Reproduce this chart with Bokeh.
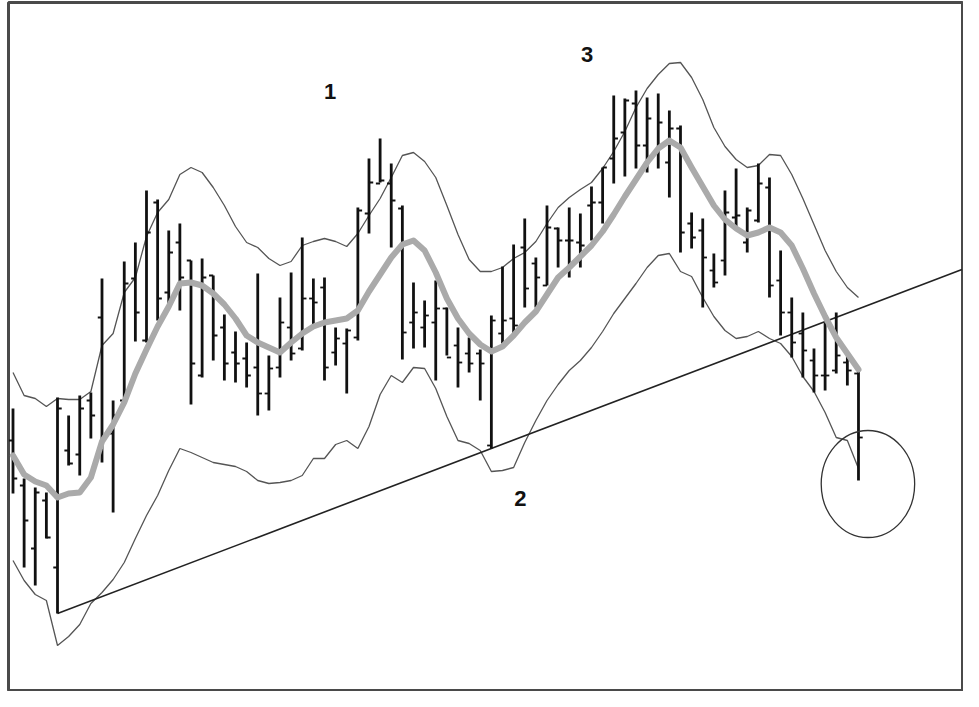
import numpy as np
from bokeh.plotting import figure
from bokeh.models import Range1d
from bokeh.core.properties import value
from bokeh.embed import file_html
from bokeh.resources import INLINE

# ---- daily bars (price units) ----
opens = [260, 215, 152, 200, 133, 250, 246, 300, 383, 267, 300, 422, 360, 498, 408, 458, 440, 325, 425, 373,
         348, 342, 333, 307, 333, 373, 352, 402, 413, 348, 357, 363, 487, 517, 517, 492, 378, 373, 378, 392,
         355, 347, 347, 255, 367, 382, 453, 437, 415, 472, 460, 458, 495, 498, 542, 568, 597, 555, 548, 538,
         572, 477, 470, 430, 440, 483, 458, 480, 513, 420, 388, 367, 340, 325, 330, 338, 327]
highs = [292, 222, 213, 208, 303, 285, 305, 308, 422, 300, 439, 458, 510, 501, 470, 477, 440, 442, 425, 386,
         369, 358, 427, 345, 403, 428, 463, 422, 423, 373, 372, 493, 542, 562, 537, 495, 418, 400, 420, 393,
         373, 363, 351, 385, 434, 456, 482, 443, 495, 473, 493, 487, 514, 533, 605, 602, 610, 603, 607, 590,
         575, 488, 482, 447, 510, 532, 493, 537, 523, 450, 403, 388, 352, 378, 388, 347, 332]
lows = [207, 133, 115, 162, 87, 235, 225, 262, 238, 188, 297, 359, 358, 380, 392, 390, 296, 323, 340, 320,
        318, 313, 285, 290, 323, 340, 350, 373, 320, 335, 307, 360, 467, 518, 453, 341, 352, 353, 320, 345,
        313, 328, 300, 252, 357, 364, 393, 393, 415, 433, 423, 433, 460, 477, 517, 524, 532, 528, 532, 503,
        448, 452, 393, 413, 425, 473, 448, 478, 403, 365, 343, 323, 308, 310, 327, 315, 220]
closes = [222, 180, 208, 163, 292, 237, 292, 285, 263, 285, 417, 388, 468, 402, 448, 423, 337, 423, 365, 337,
          337, 325, 307, 332, 378, 347, 402, 398, 333, 362, 370, 490, 518, 520, 500, 368, 388, 385, 392, 343,
          338, 337, 337, 380, 380, 375, 412, 423, 473, 460, 460, 455, 498, 533, 562, 600, 555, 582, 578, 572,
          468, 463, 443, 418, 488, 485, 490, 517, 415, 388, 358, 350, 325, 325, 345, 330, 263]

# ---- indicators ----
upper_band = [328, 305, 302, 294, 302, 301, 301, 309, 355, 367, 408, 423, 464, 488, 501, 526, 533, 528, 513, 495,
              474, 458, 453, 442, 435, 439, 455, 459, 462, 459, 454, 467, 485, 502, 523, 545, 548, 539, 523, 495,
              466, 441, 429, 429, 433, 442, 448, 459, 477, 493, 503, 511, 518, 532, 549, 569, 593, 612, 626, 637,
              638, 623, 601, 573, 554, 541, 533, 535, 546, 545, 526, 502, 476, 450, 429, 413, 403]
lower_band = [140, 120, 106, 100, 55, 64, 76, 97, 108, 121, 138, 162, 185, 205, 230, 252, 248, 243, 238, 236,
              234, 229, 220, 217, 218, 220, 225, 242, 242, 256, 260, 252, 274, 306, 325, 318, 333, 332, 312, 284,
              260, 257, 250, 229, 230, 233, 258, 280, 300, 316, 330, 340, 353, 369, 387, 402, 417, 433, 445, 447,
              429, 424, 403, 384, 370, 362, 364, 369, 362, 357, 344, 324, 309, 288, 263, 260, 232]
moving_avg = [245, 226, 219, 215, 203, 207, 208, 223, 259, 276, 298, 327, 351, 374, 394, 417, 418, 415, 407, 396,
              382, 365, 358, 353, 348, 358, 367, 374, 378, 380, 382, 390, 409, 426, 443, 456, 460, 450, 428, 402,
              382, 367, 356, 349, 354, 365, 378, 389, 406, 423, 433, 444, 455, 469, 486, 504, 521, 538, 552, 560,
              553, 533, 514, 495, 481, 472, 465, 468, 473, 468, 455, 432, 407, 384, 363, 347, 331]

# ---- annotations ----
labels = ["1", "2", "3"]
label_x = [28.5, 45.6, 51.6]
label_y = [609, 202, 646]
trend_bars = [4, 43]          # bars whose lows define the trendline
trend_end = 85.3              # extension of the trendline (bar units)
circle_x, circle_y = 76.85, 216.5
circle_w, circle_h = 8.4, 107

n = len(opens)
x = np.arange(n)

p = figure(width=963, height=691,
           x_range=Range1d(-0.4045, 85.44), y_range=Range1d(9, 698),
           output_backend="svg", toolbar_location=None,
           x_axis_location=None, y_axis_location=None,
           min_border=0, min_border_left=8, min_border_right=0,
           min_border_top=2, min_border_bottom=0)
p.grid.visible = False
p.outline_line_color = "#4a4a4a"
p.outline_line_width = 3
p.background_fill_color = "white"
p.border_fill_color = "white"

# Bollinger bands
p.line(x, upper_band, line_color="#555555", line_width=1.3)
p.line(x, lower_band, line_color="#555555", line_width=1.3)

# trendline through two lows
i0, i1 = trend_bars
slope = (lows[i1] - lows[i0]) / (i1 - i0)
tx = [i0, trend_end]
ty = [lows[i0], lows[i0] + slope * (trend_end - i0)]
p.line(tx, ty, line_color="#222222", line_width=1.6)

# OHLC bars
tick = 0.38
p.segment(x0=x, y0=lows, x1=x, y1=highs, line_color="#111111", line_width=2.8)
p.segment(x0=x - tick, y0=opens, x1=x, y1=opens, line_color="#111111", line_width=1.8)
p.segment(x0=x, y0=closes, x1=x + tick, y1=closes, line_color="#111111", line_width=1.8)

# moving average
p.line(x, moving_avg, line_color="#aaaaaa", line_width=6, line_join="round", line_cap="round")

# circle around last bar
p.ellipse(x=[circle_x], y=[circle_y], width=[circle_w], height=[circle_h],
          fill_color=None, line_color="#333333", line_width=1.3)

# wave labels
p.text(x=label_x, y=label_y, text=labels, text_font=value("Liberation Sans"),
       text_font_style="bold", text_font_size="22px", text_color="#111111",
       text_align="center", text_baseline="middle")

open("out.html", "w").write(file_html(p, INLINE))
